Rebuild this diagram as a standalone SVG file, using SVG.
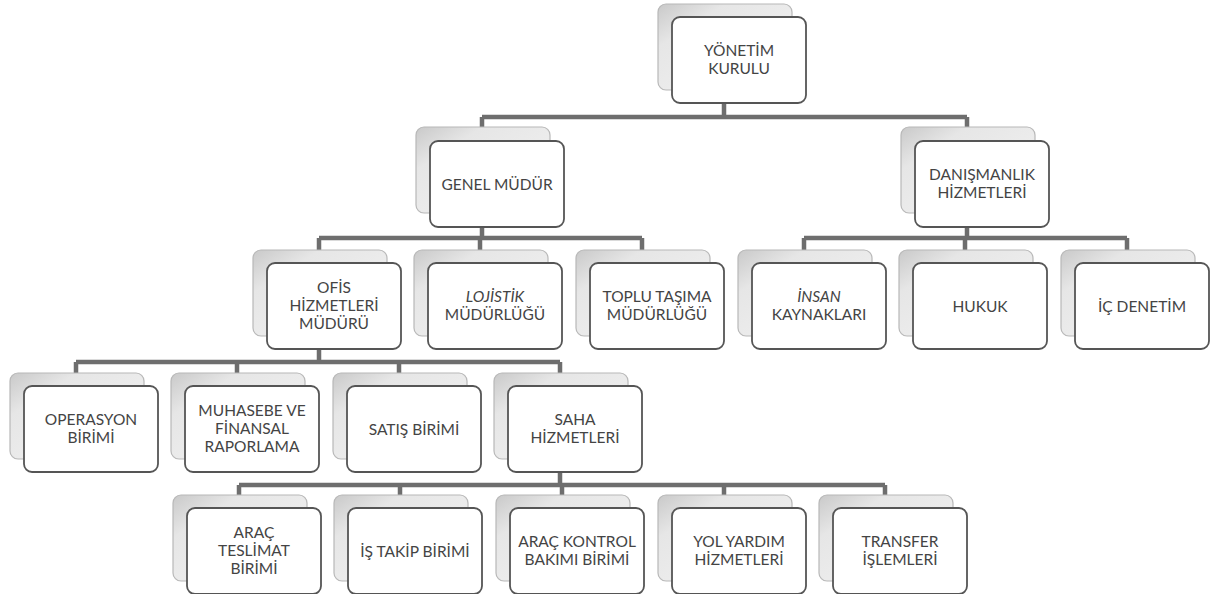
<svg xmlns="http://www.w3.org/2000/svg" width="1212" height="594" viewBox="0 0 1212 594">
<defs>
<linearGradient id="bg" x1="0" y1="0" x2="1" y2="1">
<stop offset="0" stop-color="#c9c9c9"/>
<stop offset="0.25" stop-color="#e6e6e6"/>
<stop offset="1" stop-color="#f4f4f4"/>
</linearGradient>
</defs>
<style>
.back{fill:url(#bg);stroke:#b8b8b8;stroke-width:1.2}
.front{fill:#ffffff;stroke:#555555;stroke-width:1.8}
.t{font-family:Lato,"Open Sans","Liberation Sans",sans-serif;font-size:15.5px;fill:#444444;text-anchor:middle}
.i{font-style:italic}
.c{fill:none;stroke:#6e6e6e;stroke-width:4.5}
</style>
<rect width="1212" height="594" fill="#ffffff"/>
<g id="connectors">
<path class="c" d="M724 103V117M482 117H967M482 117V128M967 117V128"/>
<path class="c" d="M482 227V238M319 238H642M319 238V251M480 238V251M642 238V251"/>
<path class="c" d="M967 227V238M804 238H1127M804 238V251M965 238V251M1127 238V251"/>
<path class="c" d="M319 349V362M76 362H560M76 362V374M237 362V374M399 362V374M560 362V374"/>
<path class="c" d="M560 472V485M239 485H885M239 485V496M400 485V496M562 485V496M724 485V496M885 485V496"/>
</g>
<g id="yonetim"><rect class="back" x="658" y="4" width="134" height="86" rx="8"/><rect class="front" x="672" y="17" width="134" height="86" rx="8"/><text class="t" x="739" y="56">YÖNETİM</text><text class="t" x="739" y="74">KURULU</text></g>
<g id="genel"><rect class="back" x="416" y="127" width="134" height="86" rx="8"/><rect class="front" x="430" y="141" width="134" height="86" rx="8"/><text class="t" x="497" y="190">GENEL MÜDÜR</text></g>
<g id="danismanlik"><rect class="back" x="901" y="127" width="134" height="86" rx="8"/><rect class="front" x="915" y="141" width="134" height="86" rx="8"/><text class="t" x="982" y="180">DANIŞMANLIK</text><text class="t" x="982" y="198">HİZMETLERİ</text></g>
<g id="ofis"><rect class="back" x="253" y="250" width="134" height="86" rx="8"/><rect class="front" x="267" y="263" width="134" height="86" rx="8"/><text class="t" x="334" y="293">OFİS</text><text class="t" x="334" y="311">HİZMETLERİ</text><text class="t" x="334" y="329">MÜDÜRÜ</text></g>
<g id="lojistik"><rect class="back" x="414" y="250" width="134" height="86" rx="8"/><rect class="front" x="428" y="263" width="134" height="86" rx="8"/><text class="t i" x="495" y="302">LOJİSTİK</text><text class="t" x="495" y="320">MÜDÜRLÜĞÜ</text></g>
<g id="toplu"><rect class="back" x="576" y="250" width="134" height="86" rx="8"/><rect class="front" x="590" y="263" width="134" height="86" rx="8"/><text class="t" x="657" y="302">TOPLU TAŞIMA</text><text class="t" x="657" y="320">MÜDÜRLÜĞÜ</text></g>
<g id="insan"><rect class="back" x="738" y="250" width="134" height="86" rx="8"/><rect class="front" x="752" y="263" width="134" height="86" rx="8"/><text class="t i" x="819" y="302">İNSAN</text><text class="t" x="819" y="320">KAYNAKLARI</text></g>
<g id="hukuk"><rect class="back" x="899" y="250" width="134" height="86" rx="8"/><rect class="front" x="913" y="263" width="134" height="86" rx="8"/><text class="t" x="980" y="312">HUKUK</text></g>
<g id="icdenetim"><rect class="back" x="1061" y="250" width="134" height="86" rx="8"/><rect class="front" x="1075" y="263" width="134" height="86" rx="8"/><text class="t" x="1142" y="312">İÇ DENETİM</text></g>
<g id="operasyon"><rect class="back" x="10" y="373" width="134" height="86" rx="8"/><rect class="front" x="24" y="386" width="134" height="86" rx="8"/><text class="t" x="91" y="425">OPERASYON</text><text class="t" x="91" y="443">BİRİMİ</text></g>
<g id="muhasebe"><rect class="back" x="171" y="373" width="134" height="86" rx="8"/><rect class="front" x="185" y="386" width="134" height="86" rx="8"/><text class="t" x="252" y="416">MUHASEBE VE</text><text class="t" x="252" y="434">FİNANSAL</text><text class="t" x="252" y="452">RAPORLAMA</text></g>
<g id="satis"><rect class="back" x="333" y="373" width="134" height="86" rx="8"/><rect class="front" x="347" y="386" width="134" height="86" rx="8"/><text class="t" x="414" y="435">SATIŞ BİRİMİ</text></g>
<g id="saha"><rect class="back" x="494" y="373" width="134" height="86" rx="8"/><rect class="front" x="508" y="386" width="134" height="86" rx="8"/><text class="t" x="575" y="425">SAHA</text><text class="t" x="575" y="443">HİZMETLERİ</text></g>
<g id="aracteslimat"><rect class="back" x="173" y="495" width="134" height="86" rx="8"/><rect class="front" x="187" y="508" width="134" height="86" rx="8"/><text class="t" x="254" y="538">ARAÇ</text><text class="t" x="254" y="556">TESLİMAT</text><text class="t" x="254" y="574">BİRİMİ</text></g>
<g id="istakip"><rect class="back" x="334" y="495" width="134" height="86" rx="8"/><rect class="front" x="348" y="508" width="134" height="86" rx="8"/><text class="t" x="415" y="557">İŞ TAKİP BİRİMİ</text></g>
<g id="arackontrol"><rect class="back" x="496" y="495" width="134" height="86" rx="8"/><rect class="front" x="510" y="508" width="134" height="86" rx="8"/><text class="t" x="577" y="547">ARAÇ KONTROL</text><text class="t" x="577" y="565">BAKIMI BİRİMİ</text></g>
<g id="yolyardim"><rect class="back" x="658" y="495" width="134" height="86" rx="8"/><rect class="front" x="672" y="508" width="134" height="86" rx="8"/><text class="t" x="739" y="547">YOL YARDIM</text><text class="t" x="739" y="565">HİZMETLERİ</text></g>
<g id="transfer"><rect class="back" x="819" y="495" width="134" height="86" rx="8"/><rect class="front" x="833" y="508" width="134" height="86" rx="8"/><text class="t" x="900" y="547">TRANSFER</text><text class="t" x="900" y="565">İŞLEMLERİ</text></g>
</svg>
